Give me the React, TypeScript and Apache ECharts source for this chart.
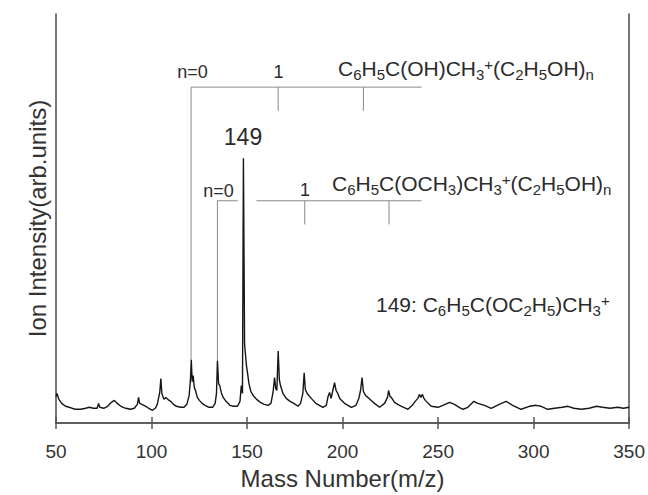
import React, { useEffect, useRef } from "react";
import * as echarts from "echarts";

// ---- Data ----
// Mass number (m/z) of each sample point of the spectrum trace
const spectrumMass = [
  50, 50.5, 51.5, 53, 55, 57, 60, 63, 65.5, 67.5, 69.5, 71.5, 72.3, 72.9, 75, 77, 79, 80.5, 82, 84,
  86.5, 89, 91, 92.6, 93.2, 93.8, 95, 97, 98.5, 100.5, 102, 103, 104.3, 104.9, 105.4, 106.5, 107.5,
  108.5, 110, 111.5, 113, 115.3, 117, 118.5, 119.7, 120.4, 120.8, 121.3, 121.8, 122.4, 123, 124, 125,
  126.5, 128, 130, 132, 133.3, 134, 134.5, 135.1, 135.7, 136.5, 137.5, 139, 141, 143, 145, 146.3, 147,
  147.6, 148.1, 148.7, 149.7, 150.3, 151, 152, 153.2, 155, 157, 159, 161, 162.5, 163.6, 164.4, 165,
  165.6, 166.3, 166.9, 167.5, 168.8, 170.5, 172.5, 174.5, 176.7, 178, 179.2, 179.9, 180.5, 181.5,
  183.6, 186, 189.7, 191.5, 192.4, 193.2, 194, 195, 195.8, 196.6, 197.5, 198.5, 201, 204.6, 207,
  208.5, 209.4, 210.2, 210.9, 212, 213.3, 216, 219.4, 222, 223.5, 224.1, 224.8, 225.5, 227.2, 229.8,
  232, 234.2, 236.5, 238, 239.4, 240.2, 241, 241.8, 242.6, 243.3, 246.4, 250, 252.5, 256, 258.6, 261,
  263, 265.6, 268.7, 270.8, 274.3, 277.8, 282, 285.6, 289, 293.4, 297.8, 301.3, 303.9, 307.4, 311,
  315, 318, 321, 325, 329, 333, 336, 340, 344, 347, 350,
];
// Ion intensity (arb. units) at each point above
const spectrumIntensity = [
  27, 30, 24, 20, 17, 16, 14, 14, 15, 16, 15, 15, 20, 16, 15, 17, 21, 23, 20, 17,
  15, 14, 15, 19, 26, 20, 19, 17, 15, 13, 15, 19, 31, 45, 30, 24, 26,
  24, 22, 19, 17, 16, 16, 19, 28, 45, 64, 42, 48, 36, 33, 26, 23,
  20, 18, 16, 16, 20, 30, 63, 40, 38, 31, 26, 22, 18, 17, 17, 22, 38,
  30, 268, 80, 58, 50, 40, 32, 28, 24, 21, 19, 18, 20, 31, 46, 35,
  33, 73, 44, 38, 30, 25, 22, 20, 17, 20, 30, 51, 34, 30,
  25, 20, 16, 18, 27, 31, 25, 34, 41, 33, 30, 25, 20, 16, 18,
  25, 33, 46, 32, 28, 26, 21, 16, 20, 26, 33, 27, 26, 21, 18,
  16, 14, 18, 22, 25, 29, 26, 29, 25, 23, 17, 16, 18, 21, 19, 16,
  14, 16, 22, 20, 18, 15, 19, 22, 18, 14, 17, 18, 17, 14, 15,
  16, 17, 15, 14, 15, 17, 16, 15, 16, 15, 16,
];

const massTicks = [50, 100, 150, 200, 250, 300, 350];
const intensityRange = [0, 414];

// Cluster series C6H5C(OH)CH3+(C2H5OH)n : n = 0, 1, 2
const seriesAMass = [120.7, 166.3, 210.9];
const seriesALevel = 340;
const seriesATickEnd = 316;
const seriesAPeak = 64;
// Cluster series C6H5C(OCH3)CH3+(C2H5OH)n : n = 0, 1, 2
const seriesBMass = [134.5, 180.2, 224.3];
const seriesBLevel = 225;
const seriesBTickEnd = 201;
const seriesBPeak = 63;
const seriesBGap = [145.1, 154.9];
const bracketEndMass = 241.3;

const FONT = "'Liberation Sans', Arial, Helvetica, sans-serif";
const TEXT = "#2b2b2b";

function formulaRich(main: number, sub: number) {
  return {
    m: { fontSize: main, fontFamily: FONT, lineHeight: 28, verticalAlign: "middle", fill: TEXT },
    s: { fontSize: sub, fontFamily: FONT, lineHeight: 12, verticalAlign: "bottom", fill: TEXT },
    p: { fontSize: sub, fontFamily: FONT, lineHeight: 14, verticalAlign: "top", padding: [3, 0, 0, 0], fill: TEXT },
  };
}

export default function App() {
  const ref = useRef<HTMLDivElement>(null);

  useEffect(() => {
    if (!ref.current) return;
    const chart = echarts.init(ref.current, undefined, { renderer: "svg" });

    const spectrum = spectrumMass.map((m, i) => [m, spectrumIntensity[i]]);
    const annoStyle = { color: "#8a8a8a", width: 1 };
    const segments: number[][][] = [
      [[seriesAMass[0], seriesAPeak], [seriesAMass[0], seriesALevel], [bracketEndMass, seriesALevel]],
      [[seriesAMass[1], seriesALevel], [seriesAMass[1], seriesATickEnd]],
      [[seriesAMass[2], seriesALevel], [seriesAMass[2], seriesATickEnd]],
      [[seriesBMass[0], seriesBPeak], [seriesBMass[0], seriesBLevel], [seriesBGap[0], seriesBLevel]],
      [[seriesBGap[1], seriesBLevel], [bracketEndMass, seriesBLevel]],
      [[seriesBMass[1], seriesBLevel], [seriesBMass[1], seriesBTickEnd]],
      [[seriesBMass[2], seriesBLevel], [seriesBMass[2], seriesBTickEnd]],
    ];

    const axisLine = { show: true, lineStyle: { color: "#555", width: 1.6 } };
    const tick = { show: true, inside: true, length: 6, lineStyle: { color: "#555", width: 1.5 } };

    chart.setOption({
      animation: false,
      backgroundColor: "#fff",
      grid: { left: 56, right: 18, top: 14, bottom: 67, show: false },
      xAxis: [
        {
          type: "value",
          min: massTicks[0],
          max: massTicks[massTicks.length - 1],
          interval: massTicks[1] - massTicks[0],
          position: "bottom",
          axisLine,
          axisTick: tick,
          splitLine: { show: false },
          axisLabel: { show: true, fontSize: 19, color: "#333", fontFamily: FONT, margin: 19, showMinLabel: true, showMaxLabel: true },
          name: "Mass Number(m/z)",
          nameLocation: "middle",
          nameGap: 42,
          nameTextStyle: { fontSize: 24, color: "#333", fontFamily: FONT },
        },
        {
          type: "value",
          min: massTicks[0],
          max: massTicks[massTicks.length - 1],
          interval: massTicks[1] - massTicks[0],
          position: "top",
          axisLine,
          axisTick: tick,
          splitLine: { show: false },
          axisLabel: { show: false },
        },
      ],
      yAxis: [
        {
          type: "value",
          min: intensityRange[0],
          max: intensityRange[1],
          position: "left",
          axisLine,
          axisTick: { show: false },
          axisLabel: { show: false },
          splitLine: { show: false },
          name: "Ion Intensity(arb.units)",
          nameLocation: "middle",
          nameGap: 7,
          nameTextStyle: { fontSize: 24, color: "#333", fontFamily: FONT },
        },
        {
          type: "value",
          min: intensityRange[0],
          max: intensityRange[1],
          position: "right",
          axisLine,
          axisTick: { show: false },
          axisLabel: { show: false },
          splitLine: { show: false },
        },
      ],
      series: [
        ...segments.map((seg) => ({
          type: "line",
          data: seg,
          symbol: "none",
          silent: true,
          lineStyle: annoStyle,
          z: 1,
        })),
        {
          type: "line",
          name: "spectrum",
          data: spectrum,
          symbol: "none",
          lineStyle: { color: "#161616", width: 1.4 },
          z: 3,
        },
      ],
      graphic: [
        { type: "text", x: 192.5, y: 72, style: { text: "n=0", fontSize: 18, fontFamily: FONT, fill: TEXT, align: "center", verticalAlign: "middle" } },
        { type: "text", x: 278.5, y: 72, style: { text: "1", fontSize: 18, fontFamily: FONT, fill: TEXT, align: "center", verticalAlign: "middle" } },
        {
          type: "text", x: 338, y: 54,
          style: {
            text: "{m|C}{s|6}{m|H}{s|5}{m|C(OH)CH}{s|3}{p|+}{m|(C}{s|2}{m|H}{s|5}{m|OH)}{s|n}",
            rich: formulaRich(21, 15), align: "left", verticalAlign: "top", fill: TEXT,
          },
        },
        { type: "text", x: 243, y: 137, style: { text: "149", fontSize: 23, fontFamily: FONT, fill: TEXT, align: "center", verticalAlign: "middle" } },
        { type: "text", x: 218.5, y: 191, style: { text: "n=0", fontSize: 18, fontFamily: FONT, fill: TEXT, align: "center", verticalAlign: "middle" } },
        { type: "text", x: 305, y: 190, style: { text: "1", fontSize: 18, fontFamily: FONT, fill: TEXT, align: "center", verticalAlign: "middle" } },
        {
          type: "text", x: 332, y: 169,
          style: {
            text: "{m|C}{s|6}{m|H}{s|5}{m|C(OCH}{s|3}{m|)CH}{s|3}{p|+}{m|(C}{s|2}{m|H}{s|5}{m|OH)}{s|n}",
            rich: formulaRich(21, 15), align: "left", verticalAlign: "top", fill: TEXT,
          },
        },
        {
          type: "text", x: 376, y: 290,
          style: {
            text: "{m|149: C}{s|6}{m|H}{s|5}{m|C(OC}{s|2}{m|H}{s|5}{m|)CH}{s|3}{p|+}",
            rich: formulaRich(21, 15), align: "left", verticalAlign: "top", fill: TEXT,
          },
        },
      ],
    });

    return () => chart.dispose();
  }, []);

  return (
    <div
      ref={ref}
      style={{ position: "absolute", left: 0, top: 0, width: 648, height: 495 }}
    />
  );
}
